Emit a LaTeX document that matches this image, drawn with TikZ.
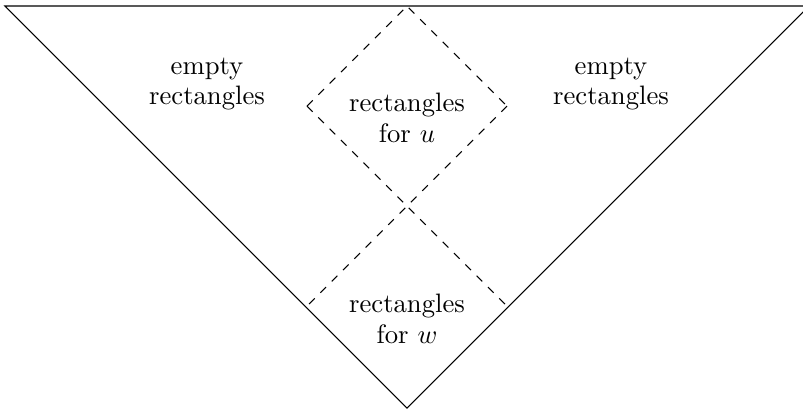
\documentclass[tikz,border=0pt]{standalone}
\begin{document}
\begin{tikzpicture}[x=0.375pt,y=-0.375pt,
  edge/.style={line width=0.4pt},
  region/.style={dashed,line width=0.4pt},
  lbl/.style={align=center,inner sep=0pt,font=\fontsize{10}{11.5}\selectfont}]
\useasboundingbox (0,0) rectangle (803,410);
\begin{scope}
\clip (0,0) rectangle (803,410);
\coordinate (tl) at (5,6);
\coordinate (tr) at (809,6);
\coordinate (bot) at (407,408);
\coordinate (dt) at (407,6);
\coordinate (dl) at (307,106);
\coordinate (dr) at (507,106);
\coordinate (el) at (307,306);
\coordinate (er) at (507,306);
\draw[edge] (tl) -- (tr) -- (bot) -- cycle;
\draw[region] (dl) -- (dt) -- (dr);
\draw[region] (dl) -- (er);
\draw[region] (dr) -- (el);
\end{scope}
\node[lbl] (el1) at (207,84) {empty\\rectangles};
\node[lbl] (er1) at (611,84) {empty\\rectangles};
\node[lbl] (ru) at (407,118) {rectangles\\for $u$};
\node[lbl] (rw) at (407,319) {rectangles\\for $w$};
\end{tikzpicture}
\end{document}
